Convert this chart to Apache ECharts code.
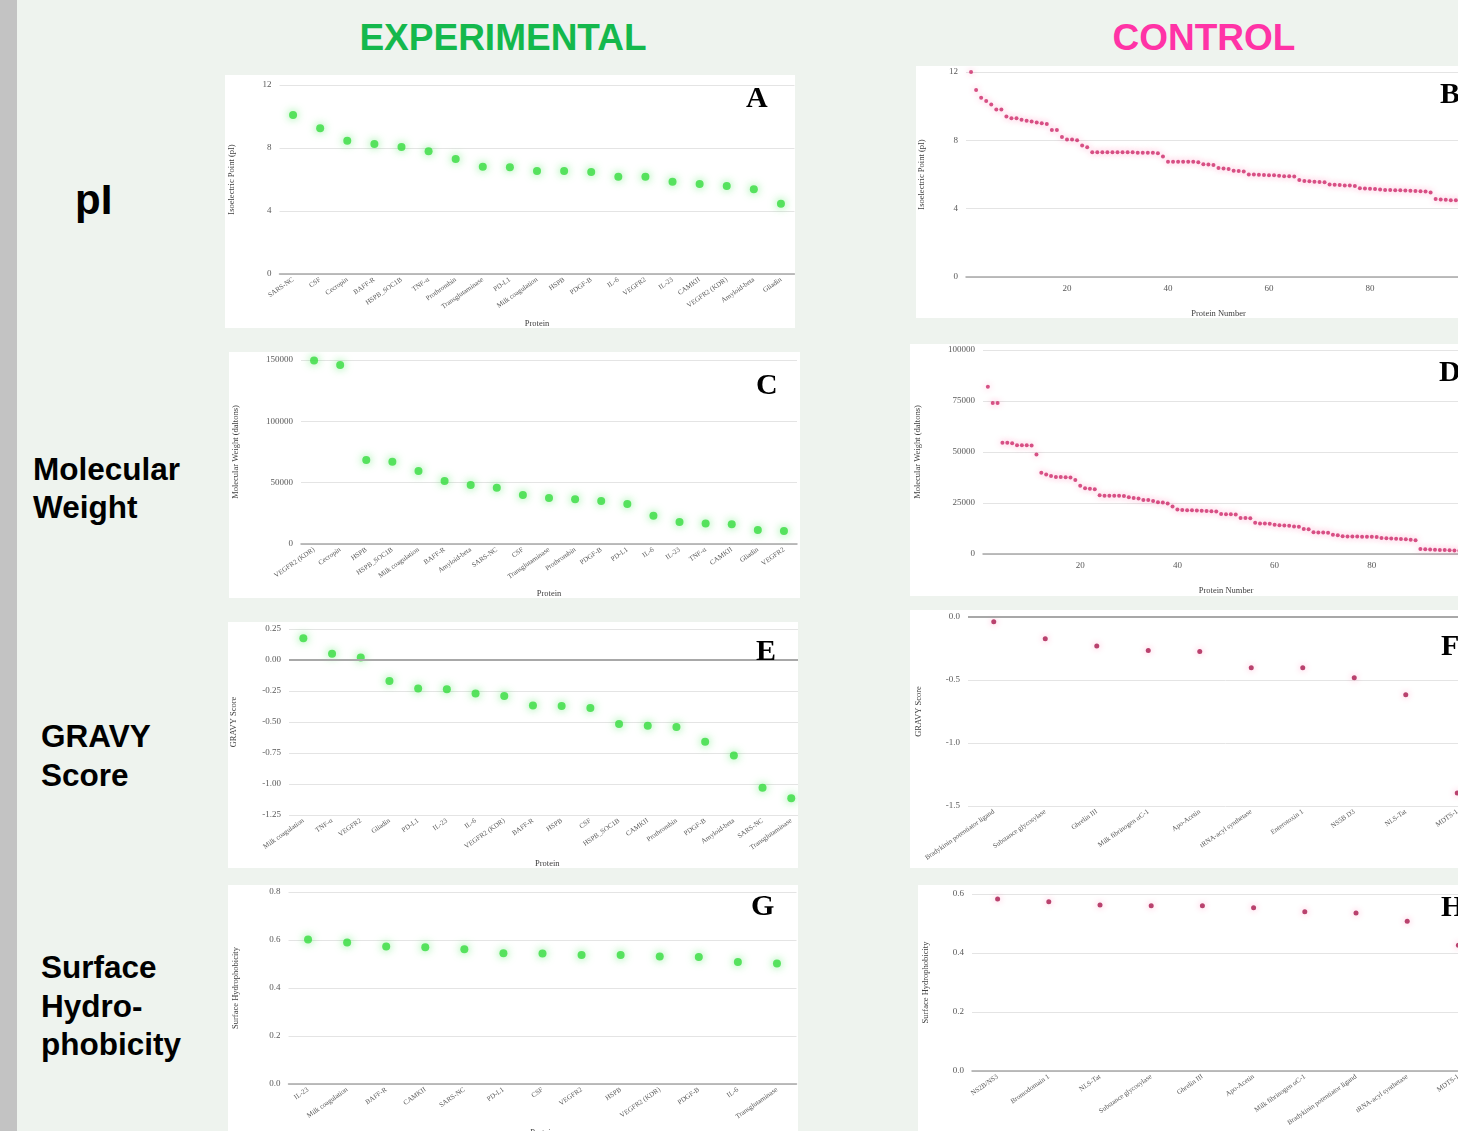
<!DOCTYPE html>
<html>
<head>
<meta charset="utf-8">
<script src="https://cdn.jsdelivr.net/npm/echarts@6/dist/echarts.min.js"></script>
<style>
body{margin:0;width:1458px;height:1131px;overflow:hidden;background:#eef3ee;position:relative;font-family:"Liberation Sans",Arial,sans-serif;}
.strip{position:absolute;left:0;top:0;width:17px;height:1131px;background:#c3c3c3;}
.head{position:absolute;top:18px;height:40px;line-height:40px;font-weight:bold;font-size:37px;text-align:center;}
.row{position:absolute;font-weight:bold;font-size:31.5px;color:#000;}
.panel{position:absolute;background:#fff;}
.tag{position:absolute;font-family:"Liberation Serif","Times New Roman",serif;font-weight:bold;font-size:30px;line-height:30px;color:#000;z-index:5;}
</style>
</head>
<body>
<div class="strip"></div>
<div class="head" style="left:303px;width:400px;color:#14b84c;">EXPERIMENTAL</div>
<div class="head" style="left:1004px;width:400px;color:#ff33a6;">CONTROL</div>

<div class="row" style="left:75px;top:176px;font-size:42px;line-height:48px;">pI</div>
<div class="row" style="left:33px;top:450px;line-height:38px;">Molecular<br>Weight</div>
<div class="row" style="left:41px;top:717px;line-height:39px;">GRAVY<br>Score</div>
<div class="row" style="left:41px;top:948px;line-height:38.5px;">Surface<br>Hydro-<br>phobicity</div>

<div id="pA" class="panel" style="left:225px;top:75px;width:570px;height:253px;"></div>
<div id="pB" class="panel" style="left:916px;top:66px;width:580px;height:252px;"></div>
<div id="pC" class="panel" style="left:229px;top:352px;width:571px;height:246px;"></div>
<div id="pD" class="panel" style="left:910px;top:344px;width:586px;height:252px;"></div>
<div id="pE" class="panel" style="left:228px;top:622px;width:570px;height:246px;"></div>
<div id="pF" class="panel" style="left:910px;top:610px;width:586px;height:258px;"></div>
<div id="pG" class="panel" style="left:228px;top:885px;width:570px;height:255px;"></div>
<div id="pH" class="panel" style="left:918px;top:885px;width:580px;height:255px;"></div>

<div class="tag" style="left:746px;top:82px;">A</div>
<div class="tag" style="left:1440px;top:78px;">B</div>
<div class="tag" style="left:756px;top:369px;">C</div>
<div class="tag" style="left:1439px;top:356px;">D</div>
<div class="tag" style="left:756px;top:635px;">E</div>
<div class="tag" style="left:1441px;top:630px;">F</div>
<div class="tag" style="left:751px;top:890px;">G</div>
<div class="tag" style="left:1441px;top:891px;">H</div>

<script>
// experimental proteins
var expPiNames = ['SARS-NC','CSF','Cecropin','BAFF-R','HSPB_SOC1B','TNF-α','Prothrombin','Transglutaminase','PD-L1','Milk coagulation','HSPB','PDGF-B','IL-6','VEGFR2','IL-23','CAMKII','VEGFR2 (KDR)','Amyloid-beta','Gliadin'];
var expPiValues = [10.1, 9.25, 8.46, 8.25, 8.06, 7.8, 7.3, 6.81, 6.77, 6.54, 6.54, 6.48, 6.18, 6.18, 5.86, 5.71, 5.59, 5.38, 4.46];

var expMwNames = ['VEGFR2 (KDR)','Cecropin','HSPB','HSPB_SOC1B','Milk coagulation','BAFF-R','Amyloid-beta','SARS-NC','CSF','Transglutaminase','Prothrombin','PDGF-B','PD-L1','IL-6','IL-23','TNF-α','CAMKII','Gliadin','VEGFR2'];
var expMwValues = [149500, 146000, 68500, 67100, 59500, 51300, 48100, 45900, 39900, 37500, 36400, 35000, 32600, 23100, 17900, 16800, 16000, 11400, 10600];

var expGravyNames = ['Milk coagulation','TNF-α','VEGFR2','Gliadin','PD-L1','IL-23','IL-6','VEGFR2 (KDR)','BAFF-R','HSPB','CSF','HSPB_SOC1B','CAMKII','Prothrombin','PDGF-B','Amyloid-beta','SARS-NC','Transglutaminase'];
var expGravyValues = [0.175, 0.05, 0.02, -0.17, -0.23, -0.236, -0.27, -0.29, -0.366, -0.37, -0.387, -0.516, -0.53, -0.54, -0.66, -0.77, -1.03, -1.115];

var expShNames = ['IL-23','Milk coagulation','BAFF-R','CAMKII','SARS-NC','PD-L1','CSF','VEGFR2','HSPB','VEGFR2 (KDR)','PDGF-B','IL-6','Transglutaminase'];
var expShValues = [0.602, 0.59, 0.573, 0.57, 0.561, 0.545, 0.544, 0.538, 0.538, 0.531, 0.529, 0.508, 0.502];

// control proteins (by protein number)
var ctlPiValues = [12.0, 10.95, 10.5, 10.3, 10.1, 9.8, 9.8, 9.4, 9.3, 9.3,
  9.2, 9.15, 9.1, 9.05, 9.0, 8.95, 8.6, 8.6, 8.2, 8.05,
  8.05, 8.0, 7.7, 7.6, 7.3, 7.3, 7.3, 7.3, 7.3, 7.3,
  7.3, 7.3, 7.3, 7.28, 7.28, 7.28, 7.27, 7.25, 7.05, 6.75,
  6.75, 6.75, 6.75, 6.75, 6.74, 6.72, 6.6, 6.58, 6.56, 6.38,
  6.35, 6.32, 6.22, 6.2, 6.18, 6.0, 6.0, 5.98, 5.97, 5.95,
  5.95, 5.93, 5.9, 5.9, 5.88, 5.68, 5.62, 5.6, 5.58, 5.56,
  5.55, 5.42, 5.4, 5.38, 5.36, 5.35, 5.32, 5.2, 5.18, 5.16,
  5.15, 5.12, 5.1, 5.1, 5.08, 5.08, 5.06, 5.05, 5.03, 5.02,
  5.0, 4.95, 4.56, 4.53, 4.52, 4.5, 4.5, 4.48];

var ctlMwValues = [82000, 74000, 74000, 54500, 54500, 54300, 53300, 53300, 53300, 53200,
  48800, 39800, 39000, 38200, 37700, 37700, 37600, 37500, 36300, 33500,
  32200, 32000, 31800, 28800, 28600, 28600, 28500, 28500, 28400, 27800,
  27500, 27200, 26500, 26500, 26000, 25400, 25300, 24700, 23300, 21800,
  21600, 21500, 21400, 21300, 21200, 21100, 20900, 20800, 19600, 19500,
  19500, 19400, 17700, 17600, 17500, 15300, 15000, 14900, 14800, 14300,
  14100, 14000, 13900, 13500, 13400, 12300, 12100, 10700, 10600, 10500,
  10400, 9400, 9200, 8700, 8600, 8600, 8600, 8500, 8500, 8400,
  8300, 7800, 7700, 7600, 7500, 7400, 7200, 7000, 6800, 2400,
  2300, 2200, 2100, 2000, 1900, 1800, 1700, 1600];

var ctlGravyNames = ['Bradykinin potentiator ligand','Substance glycosylase','Ghrelin III','Milk fibrinogen αC-1','Apo-Acetin','tRNA-acyl synthetase','Enterotoxin 1','NS5B D3','NLS-Tat','MDTS-1'];
var ctlGravyValues = [-0.037, -0.173, -0.231, -0.265, -0.273, -0.402, -0.402, -0.483, -0.617, -1.396];

var ctlShNames = ['NS2B/NS3','Bromodomain 1','NLS-Tat','Substance glycosylase','Ghrelin III','Apo-Acetin','Milk fibrinogen αC-1','Bradykinin potentiator ligand','tRNA-acyl synthetase','MDTS-1'];
var ctlShValues = [0.583, 0.574, 0.563, 0.56, 0.56, 0.553, 0.54, 0.536, 0.508, 0.426];

var serif = 'Liberation Serif';
var tickColor = '#595959';

function numbered(arr) {
  let out = [];
  for (let i in arr) out.push([Number(i) + 1, arr[i]]);
  return out;
}

function plain(v) { return String(v); }

function greenSeries(values) {
  return {
    type: 'scatter', data: values, symbolSize: 8,
    itemStyle: { color: '#36dc3e', shadowBlur: 8, shadowColor: 'rgba(40,225,60,0.75)' }
  };
}

function pinkSeries(values, size, color) {
  return {
    type: 'scatter', data: values, symbolSize: size,
    itemStyle: { color: color, shadowBlur: 6, shadowColor: 'rgba(255,80,150,0.6)' }
  };
}

function zeroLine() {
  return {
    silent: true, symbol: 'none', label: { show: false },
    lineStyle: { color: '#a8a8a8', width: 2, type: 'solid' },
    data: [{ yAxis: 0 }]
  };
}

function valueY(p) {
  return {
    type: 'value', min: p.min, max: p.max, interval: p.interval,
    name: p.name, nameLocation: 'middle', nameGap: p.nameGap,
    nameTextStyle: { fontFamily: serif, fontSize: 8.5, color: '#404040' },
    axisLine: { show: false }, axisTick: { show: false },
    splitLine: { lineStyle: { color: '#e4e4e4' } },
    axisLabel: { fontFamily: serif, fontSize: 9, color: tickColor, margin: 8, formatter: p.fmt }
  };
}

function catX(names, nameGap, showLine) {
  return {
    type: 'category', data: names, boundaryGap: true,
    name: 'Protein', nameLocation: 'middle', nameGap: nameGap,
    nameTextStyle: { fontFamily: serif, fontSize: 8.5, color: '#404040' },
    axisLine: { show: showLine, onZero: false, lineStyle: { color: '#a8a8a8', width: 1.5 } },
    axisTick: { show: false },
    axisLabel: { interval: 0, rotate: 35, fontFamily: serif, fontSize: 7, color: tickColor, margin: 5 }
  };
}

function numX(nameGap) {
  return {
    type: 'value', min: 0, max: 100, interval: 20,
    name: 'Protein Number', nameLocation: 'middle', nameGap: nameGap,
    nameTextStyle: { fontFamily: serif, fontSize: 8.5, color: '#404040' },
    axisLine: { lineStyle: { color: '#a8a8a8', width: 1.5 } },
    axisTick: { show: false }, splitLine: { show: false },
    axisLabel: { fontFamily: serif, fontSize: 9, color: tickColor, margin: 7,
      formatter: function (v) { return v === 0 ? '' : v; } }
  };
}

function draw(id, option) {
  option.animation = false;
  // keep the grid exactly where it is placed, labels may overflow
  option.grid.outerBoundsMode = 'none';
  option.grid.containLabel = false;
  var myChart = echarts.init(document.getElementById(id));
  myChart.setOption(option);
}

// A - pI experimental
draw('pA', {
  grid: { left: 54.5, width: 515, top: 10, bottom: 54 },
  xAxis: catX(expPiNames, 45, true),
  yAxis: valueY({ min: 0, max: 12, interval: 4, name: 'Isoelectric Point (pI)', nameGap: 43 }),
  series: [greenSeries(expPiValues)]
});

// B - pI control
draw('pB', {
  grid: { left: 50, width: 505, top: 6, bottom: 41 },
  xAxis: numX(32),
  yAxis: valueY({ min: 0, max: 12, interval: 4, name: 'Isoelectric Point (pI)', nameGap: 40 }),
  series: [pinkSeries(numbered(ctlPiValues), 4, '#cc2868')]
});

// C - molecular weight experimental
draw('pC', {
  grid: { left: 72, width: 496, top: 8, bottom: 54 },
  xAxis: catX(expMwNames, 45, true),
  yAxis: valueY({ min: 0, max: 150000, interval: 50000, name: 'Molecular Weight (daltons)', nameGap: 61, fmt: plain }),
  series: [greenSeries(expMwValues)]
});

// D - molecular weight control
draw('pD', {
  grid: { left: 73, width: 486, top: 6, bottom: 42 },
  xAxis: numX(32),
  yAxis: valueY({ min: 0, max: 100000, interval: 25000, name: 'Molecular Weight (daltons)', nameGap: 61, fmt: plain }),
  series: [pinkSeries(numbered(ctlMwValues), 4, '#cc2868')]
});

// E - GRAVY experimental
var eSeries = greenSeries(expGravyValues);
eSeries.markLine = zeroLine();
draw('pE', {
  grid: { left: 61, width: 516.6, top: 7, bottom: 53 },
  xAxis: catX(expGravyNames, 44, false),
  yAxis: valueY({ min: -1.25, max: 0.25, interval: 0.25, name: 'GRAVY Score', nameGap: 51,
    fmt: function (v) { return v.toFixed(2); } }),
  series: [eSeries]
});

// F - GRAVY control
var fSeries = pinkSeries(ctlGravyValues, 5, '#a8184c');
fSeries.markLine = zeroLine();
draw('pF', {
  grid: { left: 58, width: 515, top: 7, bottom: 62 },
  xAxis: catX(ctlGravyNames, 50, false),
  yAxis: valueY({ min: -1.5, max: 0, interval: 0.5, name: 'GRAVY Score', nameGap: 45,
    fmt: function (v) { return v.toFixed(1); } }),
  series: [fSeries]
});

// G - surface hydrophobicity experimental
draw('pG', {
  grid: { left: 60.5, width: 508, top: 7, bottom: 56 },
  xAxis: catX(expShNames, 44, true),
  yAxis: valueY({ min: 0, max: 0.8, interval: 0.2, name: 'Surface Hydrophobicity', nameGap: 48,
    fmt: function (v) { return v.toFixed(1); } }),
  series: [greenSeries(expShValues)]
});

// H - surface hydrophobicity control
draw('pH', {
  grid: { left: 54, width: 512, top: 9, bottom: 69 },
  xAxis: catX(ctlShNames, 52, true),
  yAxis: valueY({ min: 0, max: 0.6, interval: 0.2, name: 'Surface Hydrophobicity', nameGap: 42,
    fmt: function (v) { return v.toFixed(1); } }),
  series: [pinkSeries(ctlShValues, 5, '#a8184c')]
});
</script>
</body>
</html>
